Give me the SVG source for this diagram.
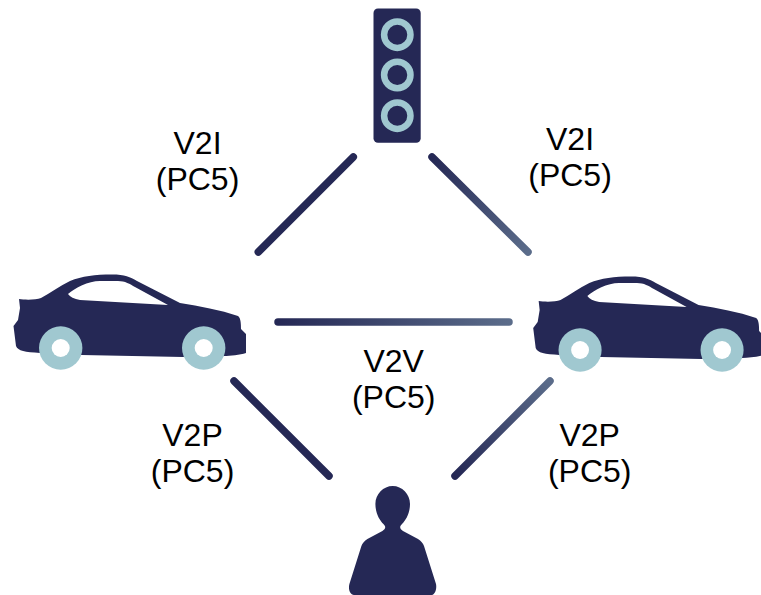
<svg xmlns="http://www.w3.org/2000/svg" width="761" height="595" viewBox="0 0 761 595">
<style>
.d{fill:#252855}
.w{fill:#a0c8d0}
.h{fill:#fff}
.c{fill:none;stroke-width:7.5;stroke-linecap:round}
.t{font-family:"Liberation Sans",Arial,sans-serif;font-size:32px;fill:#000;text-anchor:middle}
</style>
<defs>
<linearGradient id="g1" gradientUnits="userSpaceOnUse" x1="432" y1="157" x2="528" y2="252"><stop offset="0" stop-color="#252855"/><stop offset="1" stop-color="#5b6c8a"/></linearGradient>
<linearGradient id="g2" gradientUnits="userSpaceOnUse" x1="278" y1="322" x2="509" y2="322"><stop offset="0" stop-color="#252855"/><stop offset="1" stop-color="#5b6c8a"/></linearGradient>
<linearGradient id="g3" gradientUnits="userSpaceOnUse" x1="455" y1="476" x2="550" y2="381"><stop offset="0" stop-color="#252855"/><stop offset="1" stop-color="#5b6c8a"/></linearGradient>
<g id="car">
<path class="d" d="M19,299C25,300 36,300 41,298C50,293 60,286 70,281C82,276 95,274.5 112,274.5C125,274.5 130,277 137,281L180,303C200,306 220,310 238,316C241,318 241,325 241,329L246,334L246,353C240,355 230,356 224,356L183,357L82,355L40,353C25,352 18,351 16,346L13.5,326L18,320L20,308Z"/>
<path class="h" d="M68,294C75,288 88,281 100,281L118,281C125,281 130,284 135,287L168,305L80,300C74,299 70,297 68,294Z"/>
<circle class="w" cx="60.7" cy="348" r="21.7"/><circle class="h" cx="60.7" cy="348" r="9"/>
<circle class="w" cx="203.7" cy="348" r="21.7"/><circle class="h" cx="203.7" cy="348" r="9"/>
</g>
</defs>
<g id="connectors">
<line class="c" stroke="#252855" x1="258.300" y1="252" x2="353.300" y2="157"/>
<line class="c" stroke="url(#g1)" x1="432" y1="157" x2="528" y2="252"/>
<line class="c" stroke="url(#g2)" x1="278" y1="322" x2="509" y2="322"/>
<line class="c" stroke="#252855" x1="234" y1="381" x2="329" y2="476"/>
<line class="c" stroke="url(#g3)" x1="455" y1="476" x2="550" y2="381"/>
</g>
<g id="traffic-light">
<rect class="d" x="373.500" y="8.500" width="47.200" height="134.200" rx="4.500"/>
<circle cx="397.300" cy="34.700" r="13.200" fill="none" stroke="#a0c8d0" stroke-width="6.500"/>
<circle cx="397.300" cy="75" r="13.200" fill="none" stroke="#a0c8d0" stroke-width="6.500"/>
<circle cx="397.300" cy="115.700" r="13.200" fill="none" stroke="#a0c8d0" stroke-width="6.500"/>
</g>
<g id="car-left"><use href="#car"/></g>
<g id="car-right"><use href="#car" transform="translate(519.800,2) scale(.993,1)"/></g>
<g id="pedestrian">
<path class="d" d="M392.700,486C402,486 410,494 410,504C410,513 406,520 402,524C399,527 400,529 403,531L418,539C421,541 423,543 424,546L436,584C437,589 435,595 431,595L354,595C350,595 348,589 349.400,584L361.400,546C362.400,543 364.400,541 367.400,539L382.400,531C385.400,529 386.400,527 383.400,524C379.400,520 375.400,513 375.400,504C375.400,494 383.400,486 392.700,486Z"/>
</g>
<g id="label-v2i-left"><text class="t" x="197.500" y="154">V2I</text><text class="t" x="197.500" y="190">(PC5)</text></g>
<g id="label-v2i-right"><text class="t" x="570" y="150">V2I</text><text class="t" x="570" y="186">(PC5)</text></g>
<g id="label-v2v"><text class="t" x="393.700" y="372">V2V</text><text class="t" x="393.700" y="408">(PC5)</text></g>
<g id="label-v2p-left"><text class="t" x="192.500" y="446">V2P</text><text class="t" x="192.500" y="482">(PC5)</text></g>
<g id="label-v2p-right"><text class="t" x="589.700" y="446">V2P</text><text class="t" x="589.700" y="482">(PC5)</text></g>
</svg>
